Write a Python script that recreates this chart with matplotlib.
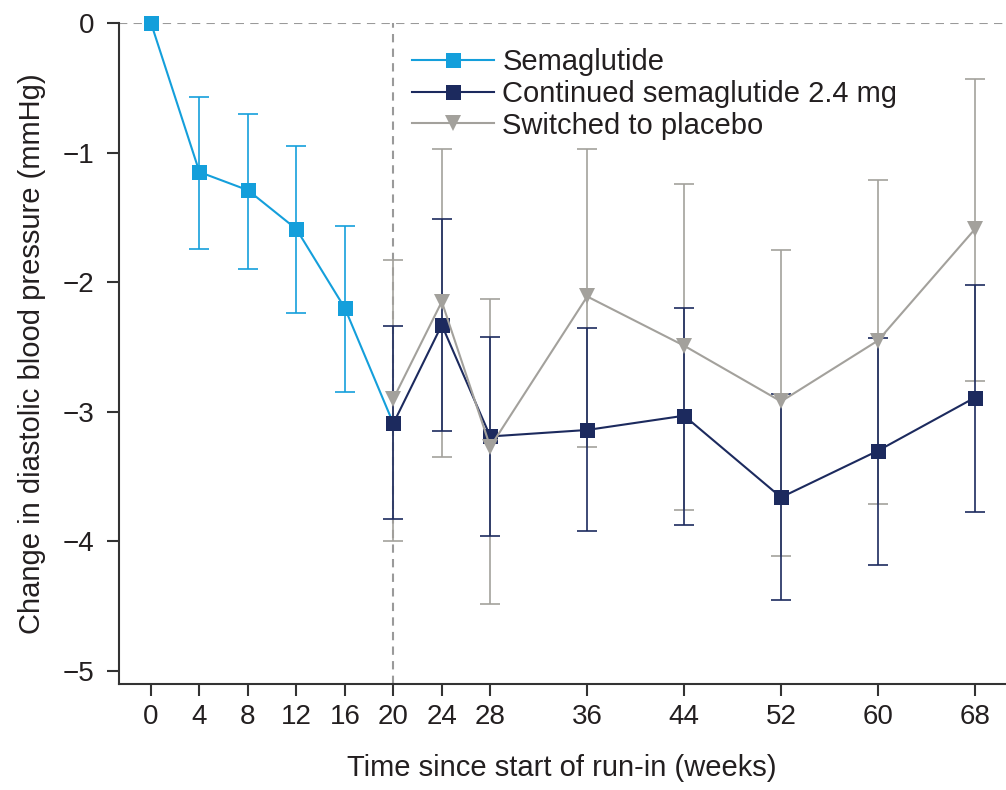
import matplotlib
matplotlib.use('Agg')
import matplotlib.pyplot as plt
import numpy as np

plt.rcParams['font.family'] = ['Liberation Sans', 'DejaVu Sans']

# ---- data ----
weeks_runin = [0, 4, 8, 12, 16, 20]
sema_mean = [0.0, -1.15, -1.29, -1.59, -2.20, -3.09]
sema_lo = [np.nan, -1.74, -1.90, -2.24, -2.85, np.nan]
sema_hi = [np.nan, -0.57, -0.70, -0.95, -1.57, np.nan]

weeks_rand = [20, 24, 28, 36, 44, 52, 60, 68]
cont_mean = [-3.09, -2.33, -3.19, -3.14, -3.03, -3.66, -3.30, -2.89]
cont_lo = [-3.83, -3.15, -3.96, -3.92, -3.87, -4.45, -4.18, -3.77]
cont_hi = [-2.34, -1.51, -2.42, -2.35, -2.20, -2.86, -2.43, -2.02]
plac_mean = [-2.90, -2.15, -3.27, -2.11, -2.49, -2.92, -2.45, -1.59]
plac_lo = [-4.00, -3.35, -4.48, -3.27, -3.76, -4.11, -3.71, -2.76]
plac_hi = [-1.83, -0.97, -2.13, -0.97, -1.24, -1.75, -1.21, -0.43]

xticks = [0, 4, 8, 12, 16, 20, 24, 28, 36, 44, 52, 60, 68]
yticks = [0, -1, -2, -3, -4, -5]
ytick_labels = ['0', '\u22121', '\u22122', '\u22123', '\u22124', '\u22125']
labels = ['Semaglutide', 'Continued semaglutide 2.4 mg', 'Switched to placebo']

c_sema = '#149fdb'
c_cont = '#1c2a5e'
c_plac = '#a3a19c'
text_c = '#231f20'

fig = plt.figure(figsize=(10.06, 7.9), dpi=100)
ax = fig.add_axes([119 / 1006, 106 / 790, 886 / 1006, 661 / 790])

ax.axhline(0, color='#9a9a9a', lw=1.5, ls=(0, (4, 3)), zorder=1)
ax.axvline(20, color='#9a9a9a', lw=1.5, ls=(0, (4, 3)), zorder=1)


def ebar(x, m, lo, hi, color, z):
    x = np.asarray(x, float); m = np.asarray(m, float)
    lo = np.asarray(lo, float); hi = np.asarray(hi, float)
    ok = ~np.isnan(lo)
    ax.errorbar(x[ok], m[ok], yerr=[m[ok] - lo[ok], hi[ok] - m[ok]], fmt='none',
                ecolor=color, elinewidth=1.4, capsize=7, capthick=1.4,
                alpha=0.85, zorder=z)


ebar(weeks_rand, plac_mean, plac_lo, plac_hi, c_plac, 2)
ebar(weeks_rand, cont_mean, cont_lo, cont_hi, c_cont, 3)
ebar(weeks_runin, sema_mean, sema_lo, sema_hi, c_sema, 3)

l1, = ax.plot(weeks_runin, sema_mean, color=c_sema, lw=1.5, marker='s', ms=10.8,
              markeredgewidth=0, zorder=4, clip_on=False, label=labels[0])
l2, = ax.plot(weeks_rand, cont_mean, color=c_cont, lw=1.5, marker='s', ms=10.8,
              markeredgewidth=0, zorder=5, clip_on=False, label=labels[1])
l3, = ax.plot(weeks_rand, plac_mean, color=c_plac, lw=1.5, marker='v', ms=11.5,
              markeredgewidth=0, zorder=6, clip_on=False, label=labels[2])

ax.set_xlim(-2.64, 70.48)
ax.set_ylim(-5.10, 0)
ax.set_xticks(xticks)
ax.set_xticklabels([str(t) for t in xticks])
ax.set_yticks(yticks)
ax.set_yticklabels(ytick_labels)

for s in ['top', 'right']:
    ax.spines[s].set_visible(False)
for s in ['left', 'bottom']:
    ax.spines[s].set_linewidth(1.5)
    ax.spines[s].set_color('#333333')

ax.tick_params(direction='out', length=8.6, width=1.5, colors='#333333',
               labelsize=20, labelcolor=text_c)
ax.tick_params(axis='x', pad=6)
ax.tick_params(axis='y', pad=9)

ax.set_xlabel('Time since start of run-in (weeks)', fontsize=21, color=text_c, labelpad=17)
ax.set_ylabel('Change in diastolic blood pressure (mmHg)', fontsize=21, color=text_c, labelpad=12)

leg = ax.legend(handles=[l1, l2, l3], loc='upper left',
                bbox_to_anchor=(412 / 1006, 1 - 48 / 790), bbox_transform=fig.transFigure,
                frameon=False, fontsize=21, borderpad=0, borderaxespad=0,
                handlelength=2.8, handletextpad=0.3, labelspacing=0.13, numpoints=1)
for t in leg.get_texts():
    t.set_color(text_c)

fig.savefig('out.png', dpi=100)
